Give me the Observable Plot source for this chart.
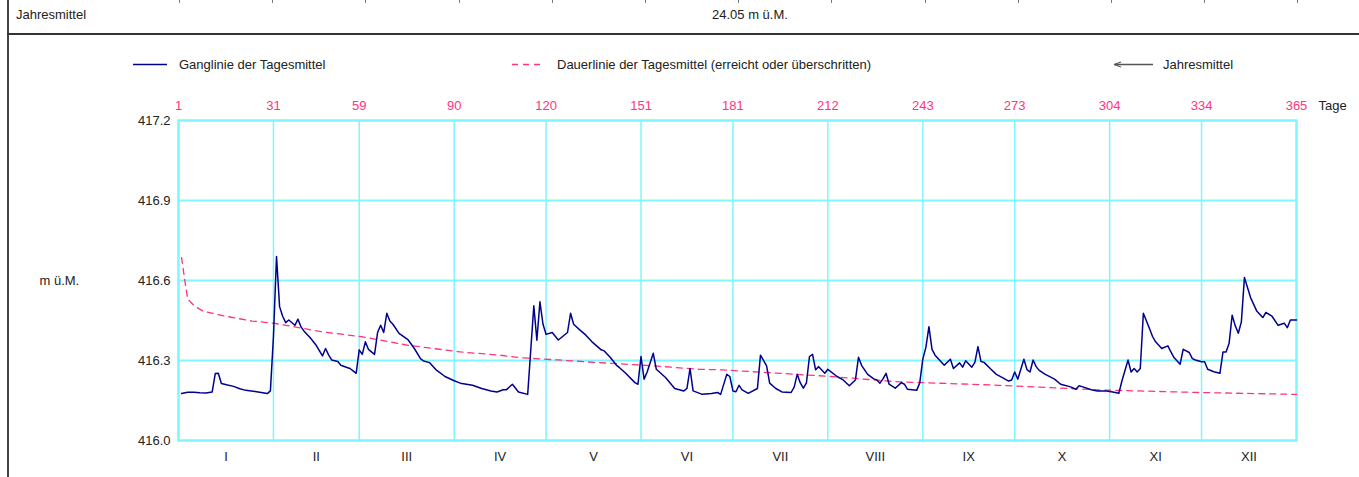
<!DOCTYPE html>
<html><head><meta charset="utf-8">
<script src="https://cdn.jsdelivr.net/npm/d3@7"></script>
<script src="https://cdn.jsdelivr.net/npm/@observablehq/plot@0.6"></script>
<style>
body{margin:0;background:#fff;font-family:"Liberation Sans",Arial,sans-serif;font-size:13px;color:#222}
#wrap{position:relative;width:1359px;height:477px;overflow:hidden;background:#fff}
.abs{position:absolute;white-space:nowrap;line-height:15px}
</style></head><body>
<div id="wrap">
  <div id="topticks"></div>
  <div class="abs" style="left:7px;top:0;width:2px;height:477px;background:#444"></div>
  <div class="abs" style="left:7px;top:33px;width:1352px;height:2px;background:#333"></div>
  <div class="abs" id="hdrLabel" style="left:16px;top:7px"></div>
  <div class="abs" id="hdrValue" style="left:712px;top:7px"></div>
  <div class="abs" style="left:133px;top:57px"><svg width="34" height="15"><line x1="0" x2="34" y1="7.5" y2="7.5" stroke="#00008f" stroke-width="1.6"/></svg></div>
  <div class="abs" id="lg1" style="left:179px;top:57px"></div>
  <div class="abs" style="left:512px;top:57px"><svg width="32" height="15"><line x1="0" x2="32" y1="7.5" y2="7.5" stroke="#ff3380" stroke-width="1.6" stroke-dasharray="6,5"/></svg></div>
  <div class="abs" id="lg2" style="left:557px;top:57px"></div>
  <div class="abs" style="left:1113px;top:57px"><svg width="40" height="15"><line x1="2" x2="40" y1="7.5" y2="7.5" stroke="#555" stroke-width="1.3"/><path d="M1,7.5 L8,5 M1,7.5 L8,10" stroke="#555" stroke-width="1.3" fill="none"/></svg></div>
  <div class="abs" id="lg3" style="left:1163px;top:57px"></div>
  <div id="chart" class="abs" style="left:0;top:90px"></div>
</div>
<script>
// ---- data ----
const headerLabel = "Jahresmittel";
const headerValue = "24.05 m ü.M.";
const legendLabels = ["Ganglinie der Tagesmittel", "Dauerlinie der Tagesmittel (erreicht oder überschritten)", "Jahresmittel"];
const unitLabel = "m ü.M.";
const dayAxisLabel = "Tage";

const dayTickPos = [0, 31, 59, 90, 120, 151, 181, 212, 243, 273, 304, 334, 365];
const dayTickLabels = ["1", "31", "59", "90", "120", "151", "181", "212", "243", "273", "304", "334", "365"];
const monthLabels = ["I", "II", "III", "IV", "V", "VI", "VII", "VIII", "IX", "X", "XI", "XII"];
const yTicks = [416.0, 416.3, 416.6, 416.9, 417.2];

// Ganglinie der Tagesmittel (day, m ü.M.)
const gangDay = [1,3,5,7,9,11,12,13,14,16,18,20,22,25,27,29,30,31,32,33,34,35,36,38,39,40,41,43,45,47,48,49,50,52,53,55,56,57,58,59,60,61,62,64,65,66,67,68,69,70,72,75,77,79,80,82,84,87,90,92,96,99,102,104,106,107,109,111,114,116,117,118,119,120,122,124,127,128,129,131,133,135,138,139,141,143,144,146,149,150,151,152,153,155,156,159,162,165,166,167,168,171,174,176,177,179,180,181,182,183,184,186,189,190,192,193,195,197,200,201,202,203,204,205,206,207,208,209,211,212,215,217,219,221,222,223,225,227,228,229,230,231,232,234,236,237,238,241,242,243,244,245,246,247,250,252,253,255,256,257,259,260,261,262,263,265,267,269,271,272,273,274,276,277,278,279,280,281,283,286,288,291,293,294,295,298,300,303,305,307,308,310,311,312,313,314,315,317,318,319,321,323,324,325,327,328,330,331,332,334,335,336,338,340,341,342,343,344,345,346,347,348,350,352,354,355,357,359,361,362,363,365];
const gangValue = [416.176,416.181,416.181,416.179,416.178,416.182,416.251,416.252,416.214,416.208,416.203,416.194,416.188,416.184,416.180,416.176,416.186,416.39,416.69,416.502,416.466,416.442,416.452,416.432,416.455,416.426,416.41,416.385,416.356,416.317,416.345,416.321,416.302,416.296,416.282,416.274,416.27,416.261,416.252,416.34,416.323,416.37,416.342,416.323,416.405,416.432,416.405,416.477,416.448,416.436,416.402,416.377,416.345,416.307,416.298,416.292,416.266,416.24,416.224,416.215,416.207,416.195,416.186,416.182,416.19,416.19,416.211,416.182,416.173,416.505,416.376,416.52,416.436,416.398,416.405,416.377,416.405,416.477,416.436,416.415,416.395,416.37,416.34,416.336,416.311,416.282,416.273,416.252,416.217,416.211,416.315,416.23,416.257,416.327,416.267,416.236,416.195,416.186,416.195,416.27,416.186,416.173,416.176,416.18,416.173,416.248,416.24,416.186,416.183,416.207,416.19,416.177,416.195,416.32,416.28,416.215,416.195,416.182,416.18,416.2,416.248,416.216,416.196,416.216,416.315,416.323,416.265,416.277,416.252,416.267,416.24,416.227,416.205,416.227,416.312,416.282,416.248,416.231,416.227,416.215,416.231,416.252,416.211,416.196,416.217,416.211,416.192,416.188,416.216,416.305,416.349,416.427,416.342,416.32,416.282,416.305,416.27,416.291,416.275,416.299,416.275,416.293,416.352,416.296,416.293,416.27,416.248,416.236,416.223,416.227,416.257,416.23,416.305,416.266,416.257,416.302,416.277,416.263,416.248,416.23,416.211,416.202,416.192,416.205,416.202,416.19,416.186,416.186,416.182,416.177,416.223,416.302,416.257,416.27,416.257,416.27,416.477,416.42,416.39,416.37,416.345,416.355,416.332,416.311,416.286,416.342,416.33,416.307,416.302,416.295,416.295,416.267,416.258,416.252,416.332,416.332,416.365,416.47,416.43,416.402,416.445,416.611,416.536,416.486,416.461,416.48,416.466,416.432,416.44,416.423,416.452,416.452];

// Dauerlinie der Tagesmittel (day, m ü.M.)
const dauerDay = [1,2,3,5,8,15,24,31,38,46,60,75,92,105,111,124,133,155,170,177,192,213,235,248,268,300,313,333,365];
const dauerValue = [416.686,416.605,416.53,416.507,416.485,416.467,416.448,416.44,416.426,416.409,416.389,416.357,416.332,416.32,416.311,416.302,416.295,416.28,416.267,416.265,416.255,416.24,416.22,416.215,416.207,416.19,416.186,416.18,416.173];

// ---- header / legend text ----
document.getElementById("hdrLabel").textContent = headerLabel;
document.getElementById("hdrValue").textContent = headerValue;
document.getElementById("lg1").textContent = legendLabels[0];
document.getElementById("lg2").textContent = legendLabels[1];
document.getElementById("lg3").textContent = legendLabels[2];
const tt = document.getElementById("topticks");
for (let i = 0; i <= 12; i++) {
  const d = document.createElement("div");
  d.className = "abs";
  d.style.cssText = `left:${179 + i * 93.2}px;top:0;width:1px;height:3px;background:#777`;
  tt.appendChild(d);
}

// ---- chart ----
const gang = gangDay.map((d, i) => ({day: d, value: gangValue[i]}));
const dauer = dauerDay.map((d, i) => ({day: d, value: dauerValue[i]}));
const months = monthLabels.map((m, i) => ({label: m, mid: (dayTickPos[i] + dayTickPos[i + 1]) / 2}));
const dayLabelOf = new Map(dayTickPos.map((p, i) => [p, dayTickLabels[i]]));
const monthLabelOf = new Map(months.map(m => [m.mid, m.label]));

const cyan = "#7ff6ff";
const pink = "#ff3380";
const navy = "#00008f";

const chart = Plot.plot({
  width: 1359,
  height: 387,
  marginLeft: 178,
  marginRight: 63,
  marginTop: 30,
  marginBottom: 37,
  style: {fontFamily: "'Liberation Sans', Arial, sans-serif", fontSize: "13px", color: "#222", background: "transparent"},
  x: {domain: [0, 365]},
  y: {domain: [416.0, 417.2]},
  marks: [
    Plot.gridX(dayTickPos.slice(1, -1), {stroke: cyan, strokeOpacity: 1, strokeWidth: 1.5}),
    Plot.gridY(yTicks.slice(1, -1), {stroke: cyan, strokeOpacity: 1, strokeWidth: 2}),
    Plot.frame({stroke: cyan, strokeWidth: 2.5}),
    Plot.axisX(dayTickPos, {anchor: "top", tickSize: 0, tickPadding: 11, tickFormat: d => dayLabelOf.get(d), fill: pink, fontSize: 13, label: null}),
    Plot.axisX(months.map(m => m.mid), {anchor: "bottom", tickSize: 0, tickPadding: 11, tickFormat: d => monthLabelOf.get(d), fill: "#222", fontSize: 13, label: null}),
    Plot.axisY(yTicks, {anchor: "left", tickSize: 0, tickPadding: 8, tickFormat: d3.format(".1f"), fill: "#222", fontSize: 13, label: null}),
    Plot.text([dayAxisLabel], {x: [dayTickPos[dayTickPos.length - 1]], frameAnchor: "top", lineAnchor: "bottom", dy: -11, dx: 22, textAnchor: "start", fill: "#222", fontSize: 13}),
    Plot.text([unitLabel], {y: [yTicks[2]], frameAnchor: "left", dx: -139, textAnchor: "start", fill: "#222", fontSize: 13}),
    Plot.line(dauer, {x: "day", y: "value", stroke: pink, strokeWidth: 1.3, strokeDasharray: "6,5"}),
    Plot.line(gang, {x: "day", y: "value", stroke: navy, strokeWidth: 1.5})
  ]
});
document.getElementById("chart").appendChild(chart);
</script>
</body></html>
